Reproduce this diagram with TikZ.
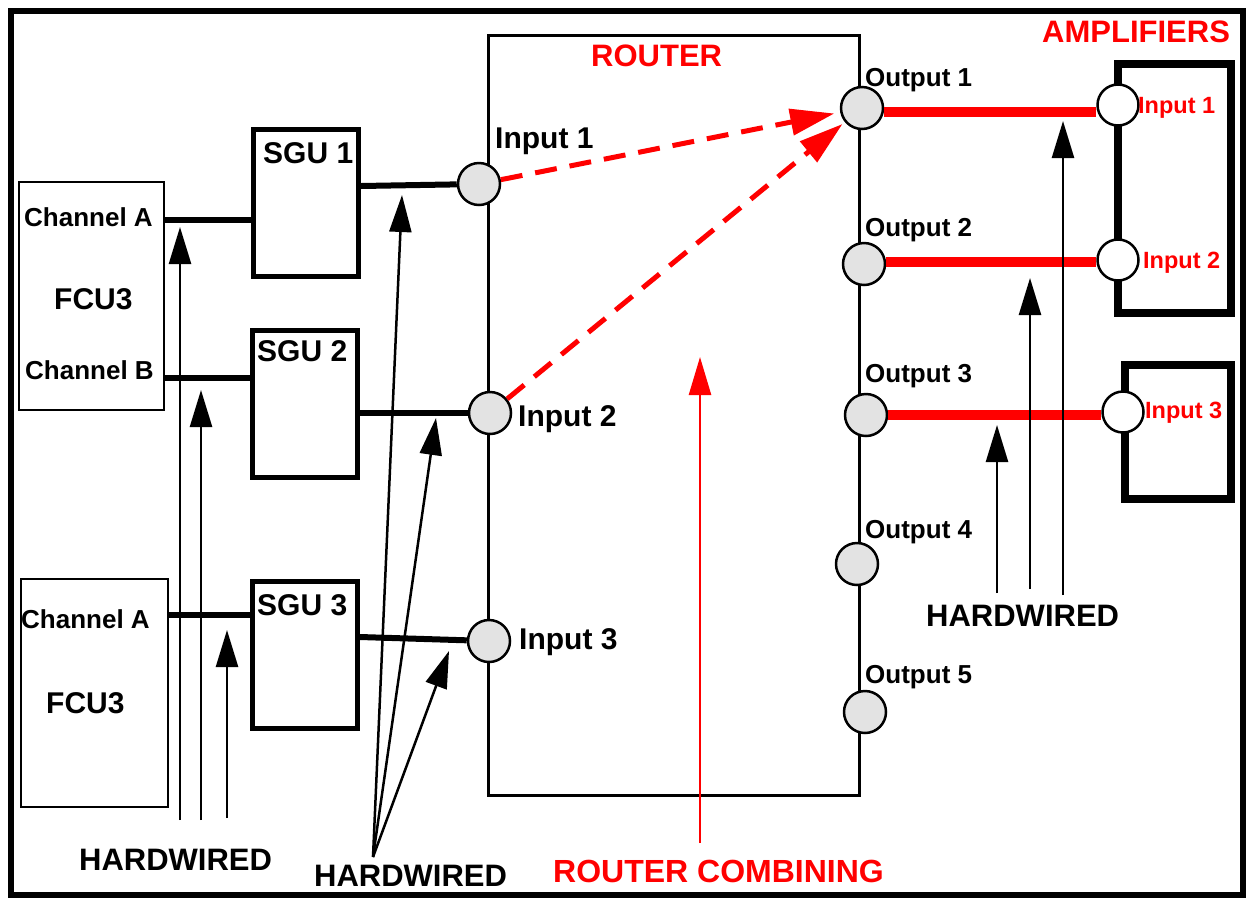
\documentclass[tikz,border=0pt]{standalone}
\usepackage{fontspec}
\setmainfont{Liberation Sans}
\usetikzlibrary{arrows.meta}
\definecolor{portgray}{HTML}{E3E3E3}
\definecolor{rred}{HTML}{FF0000}
\begin{document}
\begin{tikzpicture}[x=1pt,y=-1pt,
  lbl/.style={anchor=base west, inner sep=0pt, font=\bfseries\fontsize{#1}{#1}\selectfont},
  rlbl/.style={lbl=#1, text=rred},
  thinbox/.style={draw, line width=1.5pt, inner sep=0pt},
  sgubox/.style={draw, line width=5pt, inner sep=0pt, minimum width=105pt, minimum height=147pt},
  ampbox/.style={draw, line width=8pt, inner sep=0pt},
  port/.style={circle, draw, line width=2.5pt, fill=portgray, minimum size=42pt, inner sep=0pt},
  aport/.style={circle, draw, line width=2.5pt, fill=white, minimum size=41pt, inner sep=0pt},
  wire/.style={line width=6pt},
  redwire/.style={line width=10pt, rred},
  route/.style={rred, line width=5pt, dash pattern=on 22pt off 13pt, -{Triangle[length=44pt,width=26pt]}},
  hw/.style={line width=2.5pt, -{Triangle[length=37pt,width=22pt]}},
  comb/.style={rred, line width=2.5pt, -{Triangle[length=38pt,width=22pt]}}
]
\useasboundingbox (0,0) rectangle (1247,898);
% outer frame
\draw[line width=6pt] (11,11) rectangle (1243,895);

% FCU boxes
\node[thinbox, minimum width=145pt, minimum height=228pt] (fcuA) at (91.5,296) {};
\node[thinbox, minimum width=147pt, minimum height=228pt] (fcuB) at (94.5,693) {};
\node[lbl=26] (chA1) at (24,226) {Channel A};
\node[lbl=26] (chB1) at (25,379) {Channel B};
\node[lbl=30] (fcu1t) at (54,309) {FCU3};
\node[lbl=26] (chA2) at (21,628) {Channel A};
\node[lbl=30] (fcu2t) at (46,713) {FCU3};

% SGU boxes
\node[sgubox] (sgu1) at (306,202.5) {};
\node[sgubox] (sgu2) at (305,404) {};
\node[sgubox] (sgu3) at (305,655) {};
\node[lbl=30] (sgu1t) at (263,163) {SGU 1};
\node[lbl=30] (sgu2t) at (257,361) {SGU 2};
\node[lbl=30] (sgu3t) at (257,615) {SGU 3};

% Router
\node[draw, line width=3pt, inner sep=0pt, minimum width=371pt, minimum height=760pt] (router) at (673.5,415) {};
\node[rlbl=31] (routert) at (591,66) {ROUTER};

% Amplifier boxes
\node[ampbox, minimum width=113pt, minimum height=249pt] (amp1) at (1174.5,188.5) {};
\node[ampbox, minimum width=106.5pt, minimum height=134.5pt] (amp2) at (1177.75,431.75) {};
\node[rlbl=31] (ampt) at (1042,42) {AMPLIFIERS};

% ports
\node[port] (in1) at (479,184) {};
\node[port] (in2) at (490,413) {};
\node[port] (in3) at (489,641) {};
\node[port] (out1) at (862,108) {};
\node[port] (out2) at (864,264) {};
\node[port] (out3) at (866,415) {};
\node[port] (out4) at (857,564) {};
\node[port] (out5) at (865,712) {};
\node[aport] (ain1) at (1118,105) {};
\node[aport] (ain2) at (1118,260) {};
\node[aport] (ain3) at (1123,412) {};

\node[lbl=30] (in1t) at (495,148) {Input 1};
\node[lbl=30] (in2t) at (518,426) {Input 2};
\node[lbl=30] (in3t) at (519,649) {Input 3};
\node[lbl=26] (out1t) at (865,86) {Output 1};
\node[lbl=26] (out2t) at (865,236) {Output 2};
\node[lbl=26] (out3t) at (865,382) {Output 3};
\node[lbl=26] (out4t) at (865,538) {Output 4};
\node[lbl=26] (out5t) at (865,683) {Output 5};
\node[rlbl=23.5] (ain1t) at (1138,113) {Input 1};
\node[rlbl=23.5] (ain2t) at (1143,268) {Input 2};
\node[rlbl=23.5] (ain3t) at (1145,418) {Input 3};

% wires
\draw[wire] (fcuA.east |- 0,220) -- (sgu1.west |- 0,220);
\draw[wire] (fcuA.east |- 0,378) -- (sgu2.west |- 0,378);
\draw[wire] (fcuB.east |- 0,615) -- (sgu3.west |- 0,615);
\draw[wire] (sgu1.east |- 0,186) -- (in1);
\draw[wire] (sgu2.east |- in2) -- (in2);
\draw[wire] (sgu3.east |- 0,637) -- (in3);
\draw[redwire] (out1.east |- 0,112) -- (ain1.west |- 0,112);
\draw[redwire] (out2.east |- 0,262) -- (ain2.west |- 0,262);
\draw[redwire] (out3.east |- 0,415) -- (ain3.west |- 0,415);

% routing
\draw[route, shorten >=6pt] (in1) -- (out1);
\draw[route, shorten >=3pt] (in2) -- (out1);

% hardwired labels and arrows
\node[lbl=31] (hw1) at (79,870) {HARDWIRED};
\node[lbl=31] (hw2) at (314,886) {HARDWIRED};
\node[lbl=31] (hw3) at (926,626) {HARDWIRED};
\node[rlbl=32] (combt) at (553,882) {ROUTER COMBINING};

\coordinate (l1s) at (180,820); \coordinate (l1e) at (180,227);
\coordinate (l2s) at (201,820); \coordinate (l2e) at (201,390);
\coordinate (l3s) at (227,818); \coordinate (l3e) at (227,630);
\draw[hw] (l1s) -- (l1e);
\draw[hw] (l2s) -- (l2e);
\draw[hw] (l3s) -- (l3e);

\coordinate (ms) at (373,857);
\coordinate (m1e) at (402,195);
\coordinate (m2e) at (436,418);
\coordinate (m3e) at (449,651);
\draw[hw] (ms) -- (m1e);
\draw[hw] (ms) -- (m2e);
\draw[hw] (ms) -- (m3e);

\coordinate (r1s) at (1063,595); \coordinate (r1e) at (1063,121);
\coordinate (r2s) at (1030,589); \coordinate (r2e) at (1030,278);
\coordinate (r3s) at (997,593); \coordinate (r3e) at (997,425);
\draw[hw] (r1s) -- (r1e);
\draw[hw] (r2s) -- (r2e);
\draw[hw] (r3s) -- (r3e);

\coordinate (cs) at (700,843); \coordinate (ce) at (700,357);
\draw[comb] (cs) -- (ce);
\end{tikzpicture}
\end{document}
